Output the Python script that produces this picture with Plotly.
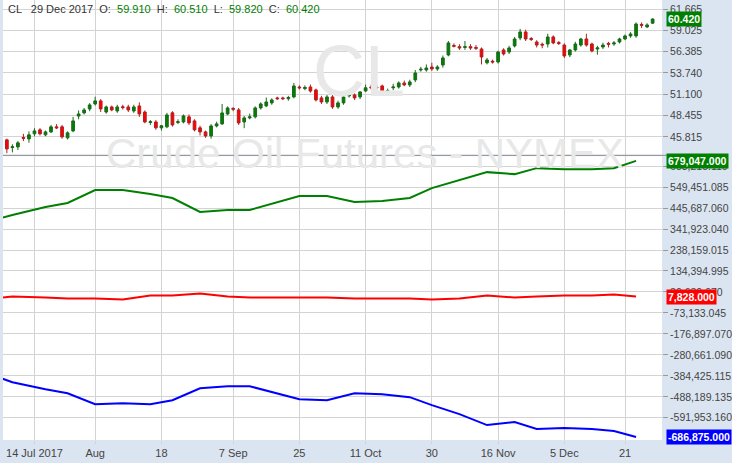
import plotly.graph_objects as go

# daily candles, CL futures (index = trading day)
opens = [45.45, 44.5, 44.58, 45.75, 45.57, 46.2, 46.69, 46.07, 46.44, 47.06, 47.06, 45.7, 46.56, 48.4, 48.79, 49.28,
         49.9, 50.28, 48.9, 49.53, 49.03, 49.55, 49.53, 49.03, 49.65, 48.9, 47.6, 47.67, 46.94, 47.06, 48.8, 47.6,
         47.67, 48.3, 47.8, 46.94, 46.44, 45.94, 47.18, 47.43, 48.66, 49.35, 49.16, 47.67, 48.17, 48.3, 49.41, 49.66,
         50.03, 50.65, 50.65, 50.55, 50.77, 52.0, 51.8, 52.0, 51.64, 50.65, 50.15, 50.77, 49.53, 50.03, 50.9, 51.02,
         50.77, 51.51, 52.0, 52.0, 52.13, 51.45, 51.9, 52.0, 52.5, 52.26, 52.88, 54.11, 54.11, 54.48, 54.24, 54.73,
         55.97, 57.15, 57.0, 56.9, 57.0, 56.9, 56.71, 55.0, 55.2, 55.1, 56.59, 56.34, 57.09, 58.08, 58.82, 58.0,
         57.58, 57.3, 57.33, 58.2, 57.5, 57.2, 55.97, 56.59, 57.2, 57.95, 57.33, 56.71, 56.96, 57.4, 57.33, 57.58,
         57.95, 58.33, 58.33, 59.75, 59.45, 59.91]
highs = [45.6, 44.9, 45.3, 46.2, 46.5, 46.9, 46.9, 46.6, 47.3, 47.4, 47.3, 46.5, 48.3, 49.1, 49.4, 50.0,
         50.8, 50.5, 49.7, 49.7, 49.8, 49.8, 49.8, 49.8, 50.1, 49.1, 47.9, 47.9, 47.3, 48.8, 49.0, 48.0,
         48.6, 48.6, 48.0, 47.2, 46.6, 47.4, 47.7, 49.9, 49.6, 49.5, 49.4, 48.4, 48.7, 49.6, 50.1, 50.7,
         50.6, 50.8, 50.8, 50.9, 52.5, 52.2, 52.2, 52.3, 51.8, 50.9, 51.0, 51.0, 50.3, 51.0, 51.3, 51.2,
         51.5, 52.3, 52.3, 52.3, 52.3, 51.8, 52.4, 52.7, 52.8, 52.9, 54.1, 54.5, 54.8, 55.0, 54.7, 55.9,
         57.7, 57.4, 57.3, 57.7, 57.3, 57.2, 56.9, 55.6, 55.4, 56.5, 56.8, 57.1, 58.2, 59.2, 59.1, 58.2,
         57.8, 57.5, 58.6, 58.4, 57.7, 57.4, 56.7, 57.6, 58.1, 58.6, 57.5, 57.1, 57.5, 57.6, 57.7, 58.1,
         58.5, 58.8, 60.0, 60.0, 59.9, 60.51]
lows = [43.8, 43.9, 44.2, 45.3, 45.1, 45.9, 46.0, 45.9, 46.3, 46.8, 45.6, 45.5, 46.4, 48.0, 48.6, 49.0,
        49.7, 48.9, 48.7, 49.0, 48.8, 49.2, 48.9, 48.8, 48.3, 47.5, 47.3, 46.7, 46.6, 46.9, 47.1, 47.4,
        47.5, 47.3, 46.5, 46.0, 45.7, 45.6, 47.0, 47.3, 48.5, 49.0, 47.3, 46.9, 48.0, 48.1, 49.2, 49.5,
        49.8, 50.4, 50.4, 50.3, 50.6, 51.7, 51.6, 51.3, 50.2, 49.9, 49.9, 49.3, 49.3, 49.8, 50.7, 50.4,
        50.5, 51.4, 51.7, 51.6, 51.1, 51.0, 51.6, 51.8, 52.1, 52.0, 52.6, 53.9, 53.9, 54.0, 54.0, 54.4,
        55.8, 56.9, 56.6, 56.6, 56.6, 56.6, 54.8, 54.8, 54.9, 54.9, 55.9, 56.1, 56.9, 57.8, 57.7, 57.7,
        56.9, 56.8, 56.9, 57.3, 57.2, 55.6, 55.7, 56.4, 57.0, 57.0, 56.3, 56.0, 56.7, 56.9, 57.1, 57.4,
        57.8, 58.1, 58.1, 59.3, 59.3, 59.82]
closes = [44.33, 44.6, 45.08, 45.65, 46.07, 46.56, 46.2, 46.44, 47.06, 46.94, 45.82, 46.32, 47.8, 48.66, 49.16, 49.78,
          50.28, 49.28, 49.53, 49.16, 49.53, 49.45, 49.16, 49.53, 48.66, 47.67, 47.7, 46.94, 47.2, 48.54, 47.3, 47.7,
          48.42, 47.55, 46.69, 46.44, 45.94, 47.18, 47.43, 48.79, 49.41, 49.25, 47.55, 48.17, 48.3, 49.41, 49.9, 50.15,
          50.4, 50.55, 50.55, 50.7, 52.13, 51.9, 51.95, 51.5, 50.4, 50.15, 50.77, 49.53, 50.03, 50.77, 51.0, 50.65,
          51.39, 51.9, 51.9, 51.9, 51.39, 51.55, 52.0, 52.5, 52.26, 52.63, 53.74, 54.2, 54.36, 54.24, 54.48, 55.6,
          57.46, 57.05, 56.84, 57.0, 56.84, 56.8, 55.72, 55.35, 55.1, 56.34, 56.1, 56.84, 57.95, 58.82, 57.95, 57.9,
          57.2, 57.2, 58.2, 57.46, 57.4, 55.85, 56.59, 57.33, 57.95, 57.2, 56.47, 56.84, 57.2, 57.3, 57.46, 57.95,
          58.33, 58.57, 59.81, 59.65, 59.69, 60.42]
day_idx = list(range(len(closes)))

# x tick labels (trading-day index)
tick_idx = [5, 16, 28, 41, 53, 65, 77, 89, 101, 112]
tick_labels = ["14 Jul 2017", "Aug", "18", "7 Sep", "25", "11 Oct", "30", "16 Nov", "5 Dec", "21"]

# weekly positioning lines
week_idx = [-1, 1, 7, 11, 16, 21, 26, 30, 35, 40, 44, 49, 53, 58, 63, 68, 73, 77, 82, 87, 92, 96, 101, 106, 110, 114]
green_vals = [396745, 411523, 450931, 470635, 534673, 534673, 514969, 495265, 426301, 436153, 436153, 475561, 505117,
              505117, 475561, 480487, 495265, 544525, 583933, 623341, 613489, 643045, 638119, 638119, 643045, 679047]
red_vals = [2665, 7591, 2665, -2261, -2261, -7187, 12517, 12517, 22369, 7591, 2665, 2665, 2665, 2665, -2261, -2261,
            -2261, -7187, -2261, 12517, 2665, 7591, 12517, 12517, 17443, 7828]
blue_vals = [-396341, -416045, -450527, -470231, -524417, -519491, -524417, -504713, -445601, -435749, -435749,
             -470231, -499787, -504713, -470231, -475157, -489935, -529343, -573677, -627863, -613085, -647567,
             -642641, -647567, -657419, -686875]

price_ticks = [45.815, 48.455, 51.100, 53.740, 56.385, 59.025, 61.665]
pos_ticks = [653215.11, 549451.085, 445687.06, 341923.04, 238159.015, 134394.995, 30630.97,
             -73133.045, -176897.07, -280661.09, -384425.115, -488189.135, -591953.16]

GRID = "#d3d3d3"
TXT = "#444444"
PANEL = "#dbe5f1"

fig = go.Figure()
fig.add_trace(go.Candlestick(
    x=day_idx, open=opens, high=highs, low=lows, close=closes,
    increasing=dict(line=dict(color="#1a6a1a", width=1), fillcolor="#008000"),
    decreasing=dict(line=dict(color="#b02020", width=1), fillcolor="#ff0000"),
    whiskerwidth=0, xaxis="x2", yaxis="y2", hoverinfo="skip"))
for vals, col in [(green_vals, "#008000"), (red_vals, "#ff0000"), (blue_vals, "#0000ff")]:
    fig.add_trace(go.Scatter(x=week_idx, y=vals, mode="lines", line=dict(color=col, width=2),
                             xaxis="x", yaxis="y"))

xcommon = dict(range=[-0.7, 118.7], tickvals=tick_idx, showgrid=True, gridcolor=GRID, zeroline=False,
               showline=False, fixedrange=True, automargin=False)
ycommon = dict(side="right", ticks="outside", ticklen=5, tickcolor="#999", gridcolor=GRID, zeroline=False,
               fixedrange=True, automargin=False, tickfont=dict(size=10.5))
fig.update_layout(
    width=732, height=463, margin=dict(l=3, r=70, t=0, b=23),
    paper_bgcolor=PANEL, plot_bgcolor="white", showlegend=False,
    font=dict(family="Liberation Sans", size=11, color=TXT),
    xaxis=dict(**xcommon, ticktext=tick_labels, anchor="y", ticks="outside", ticklen=3, tickcolor=GRID),
    xaxis2=dict(**xcommon, showticklabels=False, anchor="y2", rangeslider=dict(visible=False)),
    yaxis=dict(**ycommon, domain=[0, 0.645], range=[-701753, 702157], tickvals=pos_ticks,
               ticktext=[f"{v:,.3f}" for v in pos_ticks]),
    yaxis2=dict(**ycommon, domain=[0.648, 1], range=[43.59, 62.78], tickvals=price_ticks,
                ticktext=[f"{v:.3f}" for v in price_ticks]),
)

# separator between panels
fig.add_shape(type="line", xref="paper", yref="paper", x0=0, x1=1.1, y0=0.647, y1=0.647,
              line=dict(color="#888", width=1))

# watermarks
fig.add_annotation(text="CL", xref="paper", yref="paper", x=0.54, y=0.935, showarrow=False,
                   font=dict(size=72, color="#e8e8e8", family="Liberation Sans"))
fig.add_annotation(text="Crude Oil Futures - NYMEX", xref="paper", yref="paper", x=0.55, y=0.71,
                   showarrow=False, font=dict(size=42, color="#e8e8e8", family="Liberation Sans"))

# header
g = "<span style='color:#008000'>"
fig.add_annotation(
    text=f"CL   29 Dec 2017  O:  {g}59.910</span>  H:  {g}60.510</span>  L:  {g}59.820</span>  C:  {g}60.420</span>",
    xref="paper", yref="paper", x=0.005, y=0.998, xanchor="left", yanchor="top", showarrow=False,
    font=dict(size=11, color="#333"))

# last-value tags
for val, col, ax in [(closes[-1], "#008000", "y2"), (green_vals[-1], "#008000", "y"),
                     (red_vals[-1], "#ff0000", "y"), (blue_vals[-1], "#0000ff", "y")]:
    txt = f"{val:.3f}" if ax == "y2" else f"{val:,.3f}"
    fig.add_annotation(text="<b>" + txt + "</b>", xref="paper", yref=ax, x=1.006, y=val, xanchor="left",
                       showarrow=False, bgcolor=col, font=dict(size=10.5, color="white"), borderpad=1)

fig.write_html("out.html", config={"displayModeBar": False},
               post_script="document.body.style.margin='0';")
